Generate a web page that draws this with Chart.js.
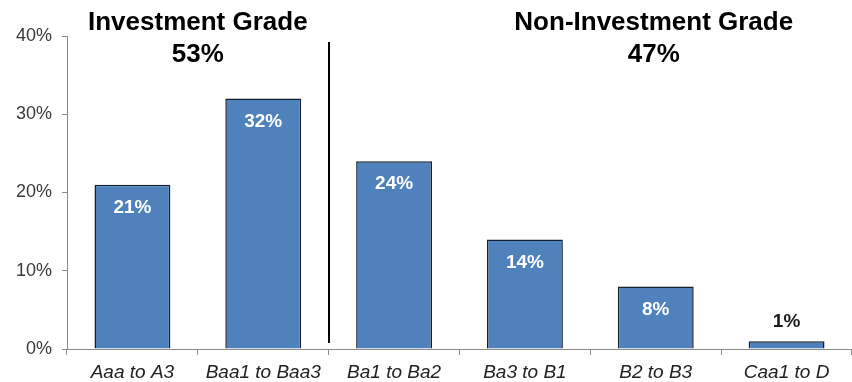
<!DOCTYPE html>
<html>
<head>
<meta charset="utf-8">
<script src="https://cdn.jsdelivr.net/npm/chart.js@4"></script>
<style>
	html, body { margin: 0; padding: 0; background: #fff; }
	#wrap { width: 852px; height: 382px; }
</style>
</head>
<body>
<div id="wrap"><canvas id="chart" width="852" height="382"></canvas></div>
<script>
/* global Chart */
const categories = ['Aaa to A3', 'Baa1 to Baa3', 'Ba1 to Ba2', 'Ba3 to B1', 'B2 to B3', 'Caa1 to D'];
const shares = [21, 32, 24, 14, 8, 1];
const groupTitles = ['Investment Grade', 'Non-Investment Grade'];
const groupShares = ['53%', '47%'];
const yMax = 40;
const yStep = 10;

const barFill = '#4F81BD';
const barEdge = '#13202e';
const axisGray = '#8a8a8a';

// Titles, divider and value labels
const overlay = {
	id: 'overlay',
	afterDatasetsDraw(chart) {
		const ctx = chart.ctx;
		const x = chart.scales.x;
		const y = chart.scales.y;
		const meta = chart.getDatasetMeta(0);

		ctx.save();

		// dividing line between the two groups
		const divX = Math.round((x.getPixelForValue(1) + x.getPixelForValue(2)) / 2);
		ctx.strokeStyle = '#000';
		ctx.lineWidth = 2;
		ctx.beginPath();
		ctx.moveTo(divX, 42);
		ctx.lineTo(divX, 343);
		ctx.stroke();

		// group titles
		ctx.fillStyle = '#000';
		ctx.textAlign = 'center';
		ctx.textBaseline = 'middle';
		ctx.font = 'bold 26px "Liberation Sans", Arial, sans-serif';
		const t1 = (x.getPixelForValue(0) + x.getPixelForValue(1)) / 2;
		const t2 = x.getPixelForValue(4) - 2;
		ctx.fillText(groupTitles[0], t1, 23);
		ctx.fillText(groupShares[0], t1, 55);
		ctx.fillText(groupTitles[1], t2, 23);
		ctx.fillText(groupShares[1], t2, 55);

		// value labels
		ctx.font = 'bold 19px "Liberation Sans", Arial, sans-serif';
		meta.data.forEach((bar, i) => {
			const v = shares[i];
			const top = y.getPixelForValue(v);
			if (v >= 5) {
				ctx.fillStyle = '#fff';
				ctx.fillText(v + '%', bar.x, top + 23);
			} else {
				ctx.fillStyle = '#1a1a1a';
				ctx.fillText(v + '%', bar.x, top - 19);
			}
		});

		ctx.restore();
	}
};

const config = {
	type: 'bar',
	data: {
		labels: categories,
		datasets: [{
			data: shares,
			backgroundColor: barFill,
			borderColor: barEdge,
			borderWidth: 1.5,
			borderSkipped: 'bottom',
			barPercentage: 0.58,
			categoryPercentage: 1
		}]
	},
	options: {
		responsive: false,
		animation: false,
		layout: { padding: { top: 36, right: 0, left: 0, bottom: 0 } },
		plugins: {
			legend: { display: false },
			tooltip: { enabled: false }
		},
		scales: {
			x: {
				offset: true,
				grid: {
					offset: true,
					drawOnChartArea: false,
					drawTicks: true,
					tickLength: 6,
					color: axisGray
				},
				border: { color: axisGray, width: 1 },
				ticks: {
					padding: 6,
					color: '#222',
					font: { family: '"Liberation Sans", Arial, sans-serif', size: 19, style: 'italic' }
				},
				afterFit: (scale) => { scale.height = 33; }
			},
			y: {
				min: 0,
				max: yMax,
				grid: {
					drawOnChartArea: false,
					drawTicks: true,
					tickLength: 5,
					color: axisGray
				},
				border: { color: axisGray, width: 1 },
				ticks: {
					stepSize: yStep,
					padding: 10,
					color: '#3a3a3a',
					font: { family: '"Liberation Sans", Arial, sans-serif', size: 18 },
					callback: function (value) {
						return value + '%';
					}
				},
				afterFit: (scale) => { scale.width = 67; }
			}
		}
	},
	plugins: [overlay]
};

const canvas = document.getElementById('chart');
const graph = new Chart(canvas, config);
</script>
</body>
</html>
